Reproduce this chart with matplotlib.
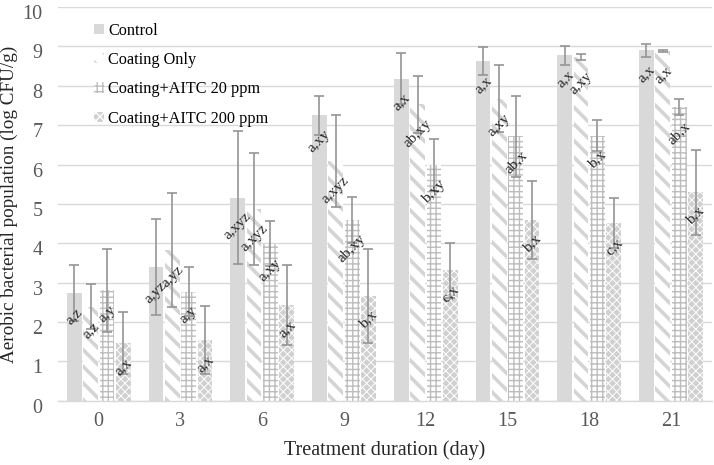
import matplotlib
matplotlib.use("Agg")
import matplotlib.pyplot as plt
import matplotlib.transforms as mtransforms
import numpy as np

days = ["0", "3", "6", "9", "12", "15", "18", "21"]
series_names = ["Control", "Coating Only", "Coating+AITC 20 ppm", "Coating+AITC 200 ppm"]

control = [2.73, 3.40, 5.16, 7.25, 8.18, 8.63, 8.77, 8.90]
control_sd = [0.71, 1.22, 1.69, 0.49, 0.64, 0.35, 0.25, 0.17]
coating = [2.39, 3.82, 4.86, 6.09, 7.53, 7.67, 8.73, 8.88]
coating_sd = [0.57, 1.45, 1.42, 1.16, 0.72, 0.85, 0.07, 0.03]
aitc20 = [2.81, 2.77, 3.99, 4.59, 5.98, 6.72, 6.73, 7.46]
aitc20_sd = [1.05, 0.62, 0.57, 0.58, 0.66, 1.03, 0.39, 0.21]
aitc200 = [1.46, 1.54, 2.43, 2.66, 3.32, 4.59, 4.52, 5.30]
aitc200_sd = [0.79, 0.87, 1.02, 1.20, 0.70, 1.00, 0.63, 1.08]

control_lbl = ["a,z", "a,yz", "a,xyz", "a,xy", "a,x", "a,x", "a,x", "a,x"]
coating_lbl = ["a,z", "a,yz", "a,xyz", "a,xyz", "ab,xy", "a,xy", "a,xy", "a,x"]
aitc20_lbl = ["a,y", "a,y", "a,xy", "ab,xy", "b,xy", "ab,x", "b,x", "ab,x"]
aitc200_lbl = ["a,x", "a,x", "a,x", "b,x", "c,x", "b,x", "c,x", "b,x"]

values = [control, coating, aitc20, aitc200]
sds = [control_sd, coating_sd, aitc20_sd, aitc200_sd]
labels = [control_lbl, coating_lbl, aitc20_lbl, aitc200_lbl]

serif = ["Liberation Serif", "DejaVu Serif"]
plt.rcParams["font.family"] = serif

styles = [
    dict(facecolor="#d9d9d9", edgecolor="#d9d9d9", hatch=None, hlw=1.0),
    dict(facecolor="white", edgecolor="#d4d4d4", hatch="\\\\", hlw=2.6),
    dict(facecolor="white", edgecolor="#bdbdbd", hatch="+++", hlw=1.0),
    dict(facecolor="#d0d0d0", edgecolor="white", hatch="xxxx", hlw=0.7),
]

fig = plt.figure(figsize=(7.14, 4.65), dpi=100)
ax = fig.add_axes([0.081, 0.138, 0.916, 0.847])

x = np.arange(len(days))
offsets = [-0.3, -0.1, 0.1, 0.3]
width = 0.18

for k in range(4):
    st = styles[k]
    with plt.rc_context({"hatch.linewidth": st["hlw"]}):
        bars = ax.bar(x + offsets[k], values[k], width=width,
                      facecolor=st["facecolor"], edgecolor=st["edgecolor"],
                      hatch=st["hatch"], linewidth=0, label=series_names[k], zorder=2)
        for b in bars:
            try:
                b.set_hatch_linewidth(st["hlw"])
            except Exception:
                pass
    ax.errorbar(x + offsets[k], values[k], yerr=sds[k], fmt="none",
                ecolor="#959595", elinewidth=1.2, capsize=3.5, capthick=1.2, zorder=3)
    for i in range(len(days)):
        ax.annotate(labels[k][i], xy=(x[i] + offsets[k], values[k][i]),
                    xytext=(0, -9), textcoords="offset points",
                    ha="center", va="top", rotation=45, fontsize=11,
                    color="#262626", zorder=4)

ax.set_xlim(-0.5, len(days) - 0.5)
ax.set_ylim(0, 10)
ax.set_yticks(np.arange(0, 11, 1))
ax.set_xticks(x)
ax.set_xticklabels(days)
ax.yaxis.grid(True, color="#d9d9d9", linewidth=1.0, zorder=0)
ax.set_axisbelow(True)
for s in ["left", "right", "top"]:
    ax.spines[s].set_visible(False)
ax.spines["bottom"].set_color("#d9d9d9")
ax.spines["bottom"].set_linewidth(1.0)
ax.tick_params(axis="both", length=0, labelsize=14.5, colors="#595959")
ax.tick_params(axis="y", pad=11)
ax.tick_params(axis="x", pad=8)
offset = mtransforms.ScaledTranslation(0, -5 / 100, fig.dpi_scale_trans)
for lab in ax.get_yticklabels():
    lab.set_transform(lab.get_transform() + offset)

ax.set_xlabel("Treatment duration (day)", fontsize=14.5, color="#262626", labelpad=7)
ax.set_ylabel("Aerobic bacterial population (log CFU/g)", fontsize=13.8, color="#262626", labelpad=3)

leg = ax.legend(loc="upper left", bbox_to_anchor=(0.045, 0.977), frameon=False,
                fontsize=11.7, handlelength=0.6, handleheight=0.6, handletextpad=0.3,
                labelspacing=0.82, borderaxespad=0)

fig.savefig("out.png", dpi=100)
